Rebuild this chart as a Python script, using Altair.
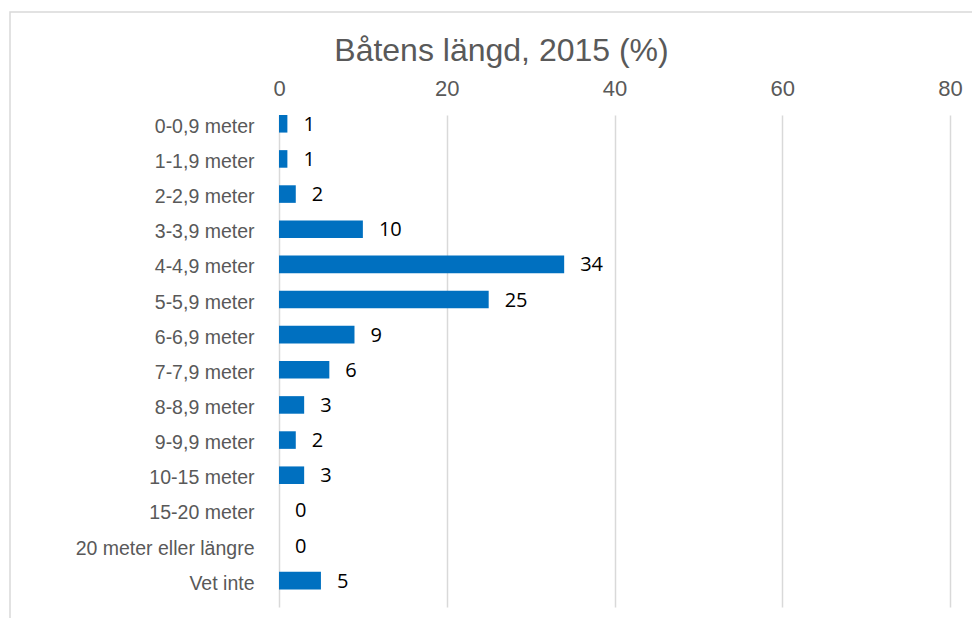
import altair as alt
import pandas as pd

categories = [
    "0-0,9 meter", "1-1,9 meter", "2-2,9 meter", "3-3,9 meter", "4-4,9 meter",
    "5-5,9 meter", "6-6,9 meter", "7-7,9 meter", "8-8,9 meter", "9-9,9 meter",
    "10-15 meter", "15-20 meter", "20 meter eller längre", "Vet inte",
]
values = [1, 1, 2, 10, 34, 25, 9, 6, 3, 2, 3, 0, 0, 5]
x_ticks = [0, 20, 40, 60, 80]

df = pd.DataFrame({"kategori": categories, "andel": values})

GRAY = "#595959"
BLUE = "#0070C0"
GRID = "#D9D9D9"

y_enc = alt.Y(
    "kategori:N",
    sort=categories,
    scale=alt.Scale(paddingInner=0.5, paddingOuter=0.25, align=0),
    axis=alt.Axis(
        title=None, ticks=False, domain=False, grid=False,
        labelFont="Liberation Sans", labelFontSize=19.5, labelColor=GRAY,
        labelPadding=25, labelOffset=3, labelLimit=300,
    ),
)
x_enc = alt.X(
    "andel:Q",
    scale=alt.Scale(domain=[0, 80], nice=False),
    axis=alt.Axis(
        orient="top", title=None, values=x_ticks, ticks=False, domain=False,
        grid=True, gridColor=GRID, gridWidth=1.5, labelFlush=False,
        labelFont="Liberation Sans", labelFontSize=22, labelColor=GRAY,
        labelPadding=15,
    ),
)

bars = alt.Chart(df).mark_bar(color=BLUE).encode(x=x_enc, y=y_enc)

labels = alt.Chart(df).mark_text(
    align="left", baseline="middle", dx=16, dy=1,
    font="Open Sans", fontSize=20, color="#000000",
).encode(
    x="andel:Q",
    y=alt.Y("kategori:N", sort=categories),
    text="andel:Q",
)

border = alt.Chart(alt.Data(values=[{}])).mark_rect(
    filled=False, stroke=GRID, strokeWidth=1.5,
).encode(
    x=alt.value(-269), x2=alt.value(720),
    y=alt.value(-103), y2=alt.value(520),
)

chart = alt.layer(border, bars, labels).properties(
    width=671,
    height=492,
    padding={"left": 271, "top": 107, "right": 22, "bottom": 11},
    autosize=alt.AutoSizeParams(type="none"),
    title=alt.TitleParams(
        text="Båtens längd, 2015 (%)",
        font="Liberation Sans", fontSize=32, fontWeight="normal",
        color=GRAY, anchor="middle", dx=-113, offset=-57,
    ),
).configure_view(stroke=None)

chart.save("out.html", embed_options={"renderer": "svg", "actions": False})
